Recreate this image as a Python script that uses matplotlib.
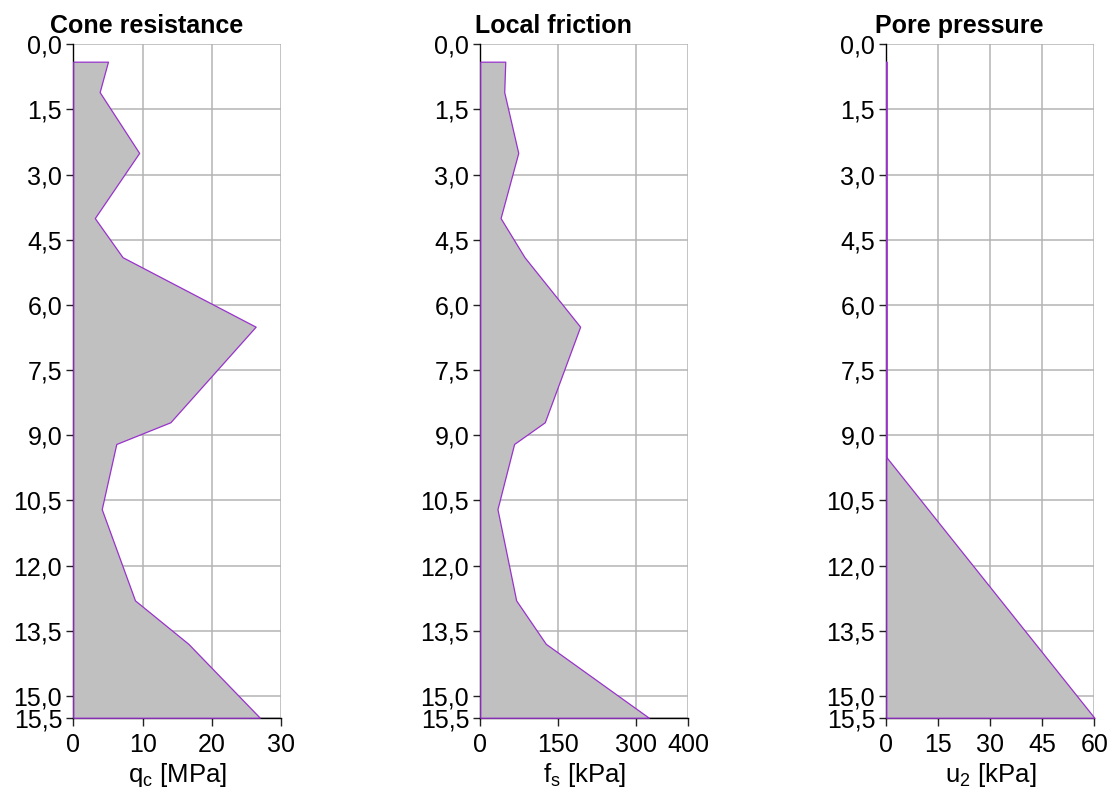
import numpy as np
import matplotlib
matplotlib.use("Agg")
import matplotlib.pyplot as plt

# ---------------------------------------------------
# Data read off the CPT log
# ---------------------------------------------------

DEPTH = [0.4, 1.1, 2.5, 4.0, 4.9, 6.5, 8.7, 9.2, 10.7, 12.8, 13.8, 15.5]
QC_MPA = [5.0, 3.8, 9.5, 3.1, 7.1, 26.3, 14.0, 6.2, 4.1, 8.9, 16.6, 26.9]
FS_KPA = [48, 46, 73, 39, 85, 192, 124, 65, 33, 69, 126, 324]

U2_DEPTH = [0.4, 9.5, 15.5]
U2_KPA = [0, 0, 60]

DEPTH_TICKS = [0.0, 1.5, 3.0, 4.5, 6.0, 7.5, 9.0, 10.5, 12.0, 13.5, 15.0, 15.5]
DEPTH_MAX = 15.5

TITLES = ["Cone resistance", "Local friction", "Pore pressure"]
XLABELS = [r"q$_\mathregular{c}$ [MPa]", r"f$_\mathregular{s}$ [kPa]", r"u$_\mathregular{2}$ [kPa]"]
XTICKS = [[0, 10, 20, 30], [0, 150, 300, 400], [0, 15, 30, 45, 60]]

# ---------------------------------------------------
# Style
# ---------------------------------------------------

plt.rcParams["font.family"] = ["Liberation Sans", "DejaVu Sans"]
plt.rcParams["mathtext.fontset"] = "custom"
plt.rcParams["mathtext.rm"] = "Liberation Sans"

FILL = "#c0c0c0"
EDGE = "#9932cc"
GRID = "#b4b4b4"

fig = plt.figure(figsize=(11.12, 7.90), dpi=100)

lefts = [73.3, 480.3, 886.3]
width_px = 208.0
bottom = (790 - 717.7) / 790
height = (717.7 - 44.3) / 790

series = [
    (DEPTH, QC_MPA),
    (DEPTH, FS_KPA),
    (U2_DEPTH, U2_KPA),
]

for i in range(3):
    ax = fig.add_axes([lefts[i] / 1112, bottom, width_px / 1112, height])
    depth, values = series[i]

    ax.fill_betweenx(
        depth,
        0,
        values,
        facecolor=FILL,
        edgecolor=EDGE,
        linewidth=0.9,
        zorder=3,
        clip_on=False,
    )

    ax.set_xlim(XTICKS[i][0], XTICKS[i][-1])
    ax.set_ylim(DEPTH_MAX, 0)

    ax.set_xticks(XTICKS[i])
    ax.set_xticklabels([str(t) for t in XTICKS[i]], fontsize=18)
    ax.set_yticks(DEPTH_TICKS)
    ax.set_yticklabels([f"{t:.1f}".replace(".", ",") for t in DEPTH_TICKS], fontsize=18)

    ax.tick_params(axis="y", length=5, width=1, pad=3, color="#222222")
    ax.tick_params(axis="x", length=6, width=1, pad=5, color="#222222")

    ax.set_axisbelow(True)
    ax.grid(True, color=GRID, linewidth=1.1)

    ax.spines["top"].set_visible(False)
    ax.spines["right"].set_visible(False)
    ax.spines["left"].set_linewidth(1.0)
    ax.spines["bottom"].set_linewidth(1.0)

    ax.set_title(TITLES[i], fontsize=18, fontweight="bold", x=73 / 208, ha="center", pad=8)
    ax.set_xlabel(XLABELS[i], fontsize=18.5, labelpad=3)

fig.savefig("out.png", dpi=100)
plt.close(fig)
